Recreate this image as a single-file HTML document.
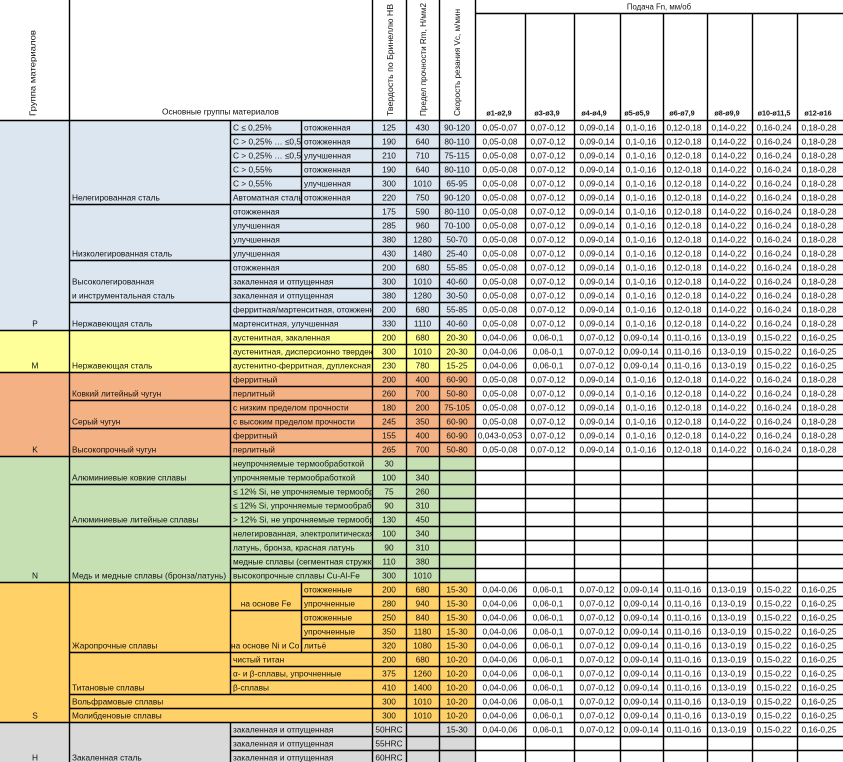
<!DOCTYPE html>
<html><head><meta charset="utf-8"><style>
html,body{margin:0;padding:0;background:#fff;}
svg{display:block;}
text{fill:#111;}
.c{text-anchor:middle;}
.h{font-size:7.2px;font-weight:bold;text-anchor:middle;}
</style></head><body>
<svg width="843" height="762" viewBox="0 0 843 762" xmlns="http://www.w3.org/2000/svg" font-family="'Liberation Sans', Arial, sans-serif" font-size="8.3">
<defs>
<clipPath id="cp3"><rect x="231" y="0" width="70" height="762"/></clipPath>
<clipPath id="cp34"><rect x="231" y="0" width="141" height="762"/></clipPath>
</defs>
<rect x="0" y="0" width="843" height="762" fill="#fff"/>
<rect x="0" y="120" width="475" height="210" fill="#dce6f1"/>
<rect x="0" y="330" width="475" height="42" fill="#ffff99"/>
<rect x="0" y="372" width="475" height="84" fill="#f4b183"/>
<rect x="0" y="456" width="475" height="126" fill="#c6e0b4"/>
<rect x="0" y="582" width="475" height="140" fill="#ffd166"/>
<rect x="0" y="722" width="475" height="40" fill="#d9d9d9"/>

<g stroke="#000" stroke-width="1.4" fill="none">
<path d="M475 13.5H843 M0 120.5H843 M0 330.5H843 M0 372.5H843 M0 456.5H843 M0 582.5H843 M0 722.5H843
M69 204.5H843 M69 260.5H843 M69 302.5H843 M69 400.5H843 M69 428.5H843 M69 484.5H843 M69 526.5H843 M69 652.5H843 M69 694.5H843 M69 708.5H843
M230 134.5H843 M230 148.5H843 M230 162.5H843 M230 176.5H843 M230 190.5H843 M230 218.5H843 M230 232.5H843 M230 246.5H843 M230 274.5H843 M230 288.5H843 M230 316.5H843 M230 344.5H843 M230 358.5H843 M230 386.5H843 M230 414.5H843 M230 442.5H843 M230 470.5H843 M230 498.5H843 M230 512.5H843 M230 540.5H843 M230 554.5H843 M230 568.5H843 M230 610.5H843 M230 666.5H843 M230 680.5H843 M230 736.5H843 M230 750.5H843
M301 596.5H843 M301 624.5H843 M301 638.5H843
M69.5 0V762 M372.5 0V762 M406.5 0V762 M439.5 0V762 M475.5 0V762
M525.5 13V762 M574.5 13V762 M620.5 13V762 M663.5 13V762 M707.5 13V762 M752.5 13V762 M797.5 13V762
M230.5 120V694 M230.5 722V762 M301.5 120V204 M301.5 582V652"/>
</g>

<!-- header -->
<text transform="translate(35.5,116) rotate(-90)" textLength="86" lengthAdjust="spacingAndGlyphs">Группа материалов</text>
<text transform="translate(393,116) rotate(-90)" textLength="112" lengthAdjust="spacingAndGlyphs">Твердость по Бринеллю HB</text>
<text transform="translate(426,116) rotate(-90)" textLength="113" lengthAdjust="spacingAndGlyphs">Предел прочности Rm, Н/мм2</text>
<text transform="translate(460,116) rotate(-90)" textLength="107" lengthAdjust="spacingAndGlyphs">Скорость резания Vc, м/мин</text>
<text class="c" x="220.5" y="114.5">Основные группы материалов</text>
<text class="c" x="659" y="9.5" font-size="7.8">Подача Fn, мм/об</text>
<text y="115.5" class="h"><tspan x="499">ø1-ø2,9</tspan><tspan x="547">ø3-ø3,9</tspan><tspan x="594">ø4-ø4,9</tspan><tspan x="637">ø5-ø5,9</tspan><tspan x="682">ø6-ø7,9</tspan><tspan x="727">ø8-ø9,9</tspan><tspan x="774">ø10-ø11,5</tspan><tspan x="818">ø12-ø16</tspan></text>

<!-- group letters -->
<text class="c" x="35" y="326.5">P</text>
<text class="c" x="35" y="368.5">M</text>
<text class="c" x="35" y="452.5">K</text>
<text class="c" x="35" y="578.5">N</text>
<text class="c" x="35" y="718.5">S</text>
<text class="c" x="35" y="760.5">H</text>

<!-- main groups -->
<text x="72" y="200.5">Нелегированная сталь</text>
<text x="72" y="256.5">Низколегированная сталь</text>
<text x="72" y="284.5">Высоколегированная</text>
<text x="72" y="298.5">и инструментальная сталь</text>
<text x="72" y="326.5">Нержавеющая сталь</text>
<text x="72" y="368.5">Нержавеющая сталь</text>
<text x="72" y="396.5">Ковкий литейный чугун</text>
<text x="72" y="424.5">Серый чугун</text>
<text x="72" y="452.5">Высокопрочный чугун</text>
<text x="72" y="480.5">Алюминиевые ковкие сплавы</text>
<text x="72" y="522.5">Алюминиевые литейные сплавы</text>
<text x="72" y="578.5">Медь и медные сплавы (бронза/латунь)</text>
<text x="72" y="648.5">Жаропрочные сплавы</text>
<text x="72" y="690.5">Титановые сплавы</text>
<text x="72" y="704.5">Вольфрамовые сплавы</text>
<text x="72" y="718.5">Молибденовые сплавы</text>
<text x="72" y="760.5">Закаленная сталь</text>

<!-- sub columns -->
<g clip-path="url(#cp3)">
<text x="233" y="130.5">C ≤ 0,25%</text>
<text x="233" y="144.5">C &gt; 0,25% … ≤0,55%</text>
<text x="233" y="158.5">C &gt; 0,25% … ≤0,55%</text>
<text x="233" y="172.5">C &gt; 0,55%</text>
<text x="233" y="186.5">C &gt; 0,55%</text>
<text x="233" y="200.5">Автоматная сталь</text>
<text x="231" y="648.5">на основе Ni и Co</text>
</g>
<text class="c" x="266" y="606.5">на основе Fe</text>
<text x="304" y="130.5">отожженная</text>
<text x="304" y="144.5">отожженная</text>
<text x="304" y="158.5">улучшенная</text>
<text x="304" y="172.5">отожженная</text>
<text x="304" y="186.5">улучшенная</text>
<text x="304" y="200.5">отожженная</text>
<text x="304" y="592.5">отожженные</text>
<text x="304" y="606.5">упрочненные</text>
<text x="304" y="620.5">отожженные</text>
<text x="304" y="634.5">упрочненные</text>
<text x="304" y="648.5">литьё</text>
<g clip-path="url(#cp34)">
<text x="233" y="214.5">отожженная</text>
<text x="233" y="228.5">улучшенная</text>
<text x="233" y="242.5">улучшенная</text>
<text x="233" y="256.5">улучшенная</text>
<text x="233" y="270.5">отожженная</text>
<text x="233" y="284.5">закаленная и отпущенная</text>
<text x="233" y="298.5">закаленная и отпущенная</text>
<text x="233" y="312.5">ферритная/мартенситная, отожженная</text>
<text x="233" y="326.5">мартенситная, улучшенная</text>
<text x="233" y="340.5">аустенитная, закаленная</text>
<text x="233" y="354.5">аустенитная, дисперсионно твердеющая</text>
<text x="233" y="368.5">аустенитно-ферритная, дуплексная</text>
<text x="233" y="382.5">ферритный</text>
<text x="233" y="396.5">перлитный</text>
<text x="233" y="410.5">с низким пределом прочности</text>
<text x="233" y="424.5">с высоким пределом прочности</text>
<text x="233" y="438.5">ферритный</text>
<text x="233" y="452.5">перлитный</text>
<text x="233" y="466.5">неупрочняемые термообработкой</text>
<text x="233" y="480.5">упрочняемые термообработкой</text>
<text x="233" y="494.5">≤ 12% Si, не упрочняемые термообработкой</text>
<text x="233" y="508.5">≤ 12% Si, упрочняемые термообработкой</text>
<text x="233" y="522.5">&gt; 12% Si, не упрочняемые термообработкой</text>
<text x="233" y="536.5">нелегированная, электролитическая медь</text>
<text x="233" y="550.5">латунь, бронза, красная латунь</text>
<text x="233" y="564.5">медные сплавы (сегментная стружка)</text>
<text x="233" y="578.5">высокопрочные сплавы Cu-Al-Fe</text>
<text x="233" y="662.5">чистый титан</text>
<text x="233" y="676.5">α- и β-сплавы, упрочненные</text>
<text x="233" y="690.5">β-сплавы</text>
<text x="233" y="732.5">закаленная и отпущенная</text>
<text x="233" y="746.5">закаленная и отпущенная</text>
<text x="233" y="760.5">закаленная и отпущенная</text>
</g>

<!-- numeric columns -->
<g class="c" text-anchor="middle">
<text y="130.5"><tspan x="389">125</tspan><tspan x="422.5">430</tspan><tspan x="457">90-120</tspan><tspan x="500">0,05-0,07</tspan><tspan x="548">0,07-0,12</tspan><tspan x="597">0,09-0,14</tspan><tspan x="641">0,1-0,16</tspan><tspan x="684">0,12-0,18</tspan><tspan x="729">0,14-0,22</tspan><tspan x="774">0,16-0,24</tspan><tspan x="819">0,18-0,28</tspan></text>
<text y="144.5"><tspan x="389">190</tspan><tspan x="422.5">640</tspan><tspan x="457">80-110</tspan><tspan x="500">0,05-0,08</tspan><tspan x="548">0,07-0,12</tspan><tspan x="597">0,09-0,14</tspan><tspan x="641">0,1-0,16</tspan><tspan x="684">0,12-0,18</tspan><tspan x="729">0,14-0,22</tspan><tspan x="774">0,16-0,24</tspan><tspan x="819">0,18-0,28</tspan></text>
<text y="158.5"><tspan x="389">210</tspan><tspan x="422.5">710</tspan><tspan x="457">75-115</tspan><tspan x="500">0,05-0,08</tspan><tspan x="548">0,07-0,12</tspan><tspan x="597">0,09-0,14</tspan><tspan x="641">0,1-0,16</tspan><tspan x="684">0,12-0,18</tspan><tspan x="729">0,14-0,22</tspan><tspan x="774">0,16-0,24</tspan><tspan x="819">0,18-0,28</tspan></text>
<text y="172.5"><tspan x="389">190</tspan><tspan x="422.5">640</tspan><tspan x="457">80-110</tspan><tspan x="500">0,05-0,08</tspan><tspan x="548">0,07-0,12</tspan><tspan x="597">0,09-0,14</tspan><tspan x="641">0,1-0,16</tspan><tspan x="684">0,12-0,18</tspan><tspan x="729">0,14-0,22</tspan><tspan x="774">0,16-0,24</tspan><tspan x="819">0,18-0,28</tspan></text>
<text y="186.5"><tspan x="389">300</tspan><tspan x="422.5">1010</tspan><tspan x="457">65-95</tspan><tspan x="500">0,05-0,08</tspan><tspan x="548">0,07-0,12</tspan><tspan x="597">0,09-0,14</tspan><tspan x="641">0,1-0,16</tspan><tspan x="684">0,12-0,18</tspan><tspan x="729">0,14-0,22</tspan><tspan x="774">0,16-0,24</tspan><tspan x="819">0,18-0,28</tspan></text>
<text y="200.5"><tspan x="389">220</tspan><tspan x="422.5">750</tspan><tspan x="457">90-120</tspan><tspan x="500">0,05-0,08</tspan><tspan x="548">0,07-0,12</tspan><tspan x="597">0,09-0,14</tspan><tspan x="641">0,1-0,16</tspan><tspan x="684">0,12-0,18</tspan><tspan x="729">0,14-0,22</tspan><tspan x="774">0,16-0,24</tspan><tspan x="819">0,18-0,28</tspan></text>
<text y="214.5"><tspan x="389">175</tspan><tspan x="422.5">590</tspan><tspan x="457">80-110</tspan><tspan x="500">0,05-0,08</tspan><tspan x="548">0,07-0,12</tspan><tspan x="597">0,09-0,14</tspan><tspan x="641">0,1-0,16</tspan><tspan x="684">0,12-0,18</tspan><tspan x="729">0,14-0,22</tspan><tspan x="774">0,16-0,24</tspan><tspan x="819">0,18-0,28</tspan></text>
<text y="228.5"><tspan x="389">285</tspan><tspan x="422.5">960</tspan><tspan x="457">70-100</tspan><tspan x="500">0,05-0,08</tspan><tspan x="548">0,07-0,12</tspan><tspan x="597">0,09-0,14</tspan><tspan x="641">0,1-0,16</tspan><tspan x="684">0,12-0,18</tspan><tspan x="729">0,14-0,22</tspan><tspan x="774">0,16-0,24</tspan><tspan x="819">0,18-0,28</tspan></text>
<text y="242.5"><tspan x="389">380</tspan><tspan x="422.5">1280</tspan><tspan x="457">50-70</tspan><tspan x="500">0,05-0,08</tspan><tspan x="548">0,07-0,12</tspan><tspan x="597">0,09-0,14</tspan><tspan x="641">0,1-0,16</tspan><tspan x="684">0,12-0,18</tspan><tspan x="729">0,14-0,22</tspan><tspan x="774">0,16-0,24</tspan><tspan x="819">0,18-0,28</tspan></text>
<text y="256.5"><tspan x="389">430</tspan><tspan x="422.5">1480</tspan><tspan x="457">25-40</tspan><tspan x="500">0,05-0,08</tspan><tspan x="548">0,07-0,12</tspan><tspan x="597">0,09-0,14</tspan><tspan x="641">0,1-0,16</tspan><tspan x="684">0,12-0,18</tspan><tspan x="729">0,14-0,22</tspan><tspan x="774">0,16-0,24</tspan><tspan x="819">0,18-0,28</tspan></text>
<text y="270.5"><tspan x="389">200</tspan><tspan x="422.5">680</tspan><tspan x="457">55-85</tspan><tspan x="500">0,05-0,08</tspan><tspan x="548">0,07-0,12</tspan><tspan x="597">0,09-0,14</tspan><tspan x="641">0,1-0,16</tspan><tspan x="684">0,12-0,18</tspan><tspan x="729">0,14-0,22</tspan><tspan x="774">0,16-0,24</tspan><tspan x="819">0,18-0,28</tspan></text>
<text y="284.5"><tspan x="389">300</tspan><tspan x="422.5">1010</tspan><tspan x="457">40-60</tspan><tspan x="500">0,05-0,08</tspan><tspan x="548">0,07-0,12</tspan><tspan x="597">0,09-0,14</tspan><tspan x="641">0,1-0,16</tspan><tspan x="684">0,12-0,18</tspan><tspan x="729">0,14-0,22</tspan><tspan x="774">0,16-0,24</tspan><tspan x="819">0,18-0,28</tspan></text>
<text y="298.5"><tspan x="389">380</tspan><tspan x="422.5">1280</tspan><tspan x="457">30-50</tspan><tspan x="500">0,05-0,08</tspan><tspan x="548">0,07-0,12</tspan><tspan x="597">0,09-0,14</tspan><tspan x="641">0,1-0,16</tspan><tspan x="684">0,12-0,18</tspan><tspan x="729">0,14-0,22</tspan><tspan x="774">0,16-0,24</tspan><tspan x="819">0,18-0,28</tspan></text>
<text y="312.5"><tspan x="389">200</tspan><tspan x="422.5">680</tspan><tspan x="457">55-85</tspan><tspan x="500">0,05-0,08</tspan><tspan x="548">0,07-0,12</tspan><tspan x="597">0,09-0,14</tspan><tspan x="641">0,1-0,16</tspan><tspan x="684">0,12-0,18</tspan><tspan x="729">0,14-0,22</tspan><tspan x="774">0,16-0,24</tspan><tspan x="819">0,18-0,28</tspan></text>
<text y="326.5"><tspan x="389">330</tspan><tspan x="422.5">1110</tspan><tspan x="457">40-60</tspan><tspan x="500">0,05-0,08</tspan><tspan x="548">0,07-0,12</tspan><tspan x="597">0,09-0,14</tspan><tspan x="641">0,1-0,16</tspan><tspan x="684">0,12-0,18</tspan><tspan x="729">0,14-0,22</tspan><tspan x="774">0,16-0,24</tspan><tspan x="819">0,18-0,28</tspan></text>
<text y="340.5"><tspan x="389">200</tspan><tspan x="422.5">680</tspan><tspan x="457">20-30</tspan><tspan x="500">0,04-0,06</tspan><tspan x="548">0,06-0,1</tspan><tspan x="597">0,07-0,12</tspan><tspan x="641">0,09-0,14</tspan><tspan x="684">0,11-0,16</tspan><tspan x="729">0,13-0,19</tspan><tspan x="774">0,15-0,22</tspan><tspan x="819">0,16-0,25</tspan></text>
<text y="354.5"><tspan x="389">300</tspan><tspan x="422.5">1010</tspan><tspan x="457">20-30</tspan><tspan x="500">0,04-0,06</tspan><tspan x="548">0,06-0,1</tspan><tspan x="597">0,07-0,12</tspan><tspan x="641">0,09-0,14</tspan><tspan x="684">0,11-0,16</tspan><tspan x="729">0,13-0,19</tspan><tspan x="774">0,15-0,22</tspan><tspan x="819">0,16-0,25</tspan></text>
<text y="368.5"><tspan x="389">230</tspan><tspan x="422.5">780</tspan><tspan x="457">15-25</tspan><tspan x="500">0,04-0,06</tspan><tspan x="548">0,06-0,1</tspan><tspan x="597">0,07-0,12</tspan><tspan x="641">0,09-0,14</tspan><tspan x="684">0,11-0,16</tspan><tspan x="729">0,13-0,19</tspan><tspan x="774">0,15-0,22</tspan><tspan x="819">0,16-0,25</tspan></text>
<text y="382.5"><tspan x="389">200</tspan><tspan x="422.5">400</tspan><tspan x="457">60-90</tspan><tspan x="500">0,05-0,08</tspan><tspan x="548">0,07-0,12</tspan><tspan x="597">0,09-0,14</tspan><tspan x="641">0,1-0,16</tspan><tspan x="684">0,12-0,18</tspan><tspan x="729">0,14-0,22</tspan><tspan x="774">0,16-0,24</tspan><tspan x="819">0,18-0,28</tspan></text>
<text y="396.5"><tspan x="389">260</tspan><tspan x="422.5">700</tspan><tspan x="457">50-80</tspan><tspan x="500">0,05-0,08</tspan><tspan x="548">0,07-0,12</tspan><tspan x="597">0,09-0,14</tspan><tspan x="641">0,1-0,16</tspan><tspan x="684">0,12-0,18</tspan><tspan x="729">0,14-0,22</tspan><tspan x="774">0,16-0,24</tspan><tspan x="819">0,18-0,28</tspan></text>
<text y="410.5"><tspan x="389">180</tspan><tspan x="422.5">200</tspan><tspan x="457">75-105</tspan><tspan x="500">0,05-0,08</tspan><tspan x="548">0,07-0,12</tspan><tspan x="597">0,09-0,14</tspan><tspan x="641">0,1-0,16</tspan><tspan x="684">0,12-0,18</tspan><tspan x="729">0,14-0,22</tspan><tspan x="774">0,16-0,24</tspan><tspan x="819">0,18-0,28</tspan></text>
<text y="424.5"><tspan x="389">245</tspan><tspan x="422.5">350</tspan><tspan x="457">60-90</tspan><tspan x="500">0,05-0,08</tspan><tspan x="548">0,07-0,12</tspan><tspan x="597">0,09-0,14</tspan><tspan x="641">0,1-0,16</tspan><tspan x="684">0,12-0,18</tspan><tspan x="729">0,14-0,22</tspan><tspan x="774">0,16-0,24</tspan><tspan x="819">0,18-0,28</tspan></text>
<text y="438.5"><tspan x="389">155</tspan><tspan x="422.5">400</tspan><tspan x="457">60-90</tspan><tspan x="500">0,043-0,053</tspan><tspan x="548">0,07-0,12</tspan><tspan x="597">0,09-0,14</tspan><tspan x="641">0,1-0,16</tspan><tspan x="684">0,12-0,18</tspan><tspan x="729">0,14-0,22</tspan><tspan x="774">0,16-0,24</tspan><tspan x="819">0,18-0,28</tspan></text>
<text y="452.5"><tspan x="389">265</tspan><tspan x="422.5">700</tspan><tspan x="457">50-80</tspan><tspan x="500">0,05-0,08</tspan><tspan x="548">0,07-0,12</tspan><tspan x="597">0,09-0,14</tspan><tspan x="641">0,1-0,16</tspan><tspan x="684">0,12-0,18</tspan><tspan x="729">0,14-0,22</tspan><tspan x="774">0,16-0,24</tspan><tspan x="819">0,18-0,28</tspan></text>
<text y="466.5"><tspan x="389">30</tspan></text>
<text y="480.5"><tspan x="389">100</tspan><tspan x="422.5">340</tspan></text>
<text y="494.5"><tspan x="389">75</tspan><tspan x="422.5">260</tspan></text>
<text y="508.5"><tspan x="389">90</tspan><tspan x="422.5">310</tspan></text>
<text y="522.5"><tspan x="389">130</tspan><tspan x="422.5">450</tspan></text>
<text y="536.5"><tspan x="389">100</tspan><tspan x="422.5">340</tspan></text>
<text y="550.5"><tspan x="389">90</tspan><tspan x="422.5">310</tspan></text>
<text y="564.5"><tspan x="389">110</tspan><tspan x="422.5">380</tspan></text>
<text y="578.5"><tspan x="389">300</tspan><tspan x="422.5">1010</tspan></text>
<text y="592.5"><tspan x="389">200</tspan><tspan x="422.5">680</tspan><tspan x="457">15-30</tspan><tspan x="500">0,04-0,06</tspan><tspan x="548">0,06-0,1</tspan><tspan x="597">0,07-0,12</tspan><tspan x="641">0,09-0,14</tspan><tspan x="684">0,11-0,16</tspan><tspan x="729">0,13-0,19</tspan><tspan x="774">0,15-0,22</tspan><tspan x="819">0,16-0,25</tspan></text>
<text y="606.5"><tspan x="389">280</tspan><tspan x="422.5">940</tspan><tspan x="457">15-30</tspan><tspan x="500">0,04-0,06</tspan><tspan x="548">0,06-0,1</tspan><tspan x="597">0,07-0,12</tspan><tspan x="641">0,09-0,14</tspan><tspan x="684">0,11-0,16</tspan><tspan x="729">0,13-0,19</tspan><tspan x="774">0,15-0,22</tspan><tspan x="819">0,16-0,25</tspan></text>
<text y="620.5"><tspan x="389">250</tspan><tspan x="422.5">840</tspan><tspan x="457">15-30</tspan><tspan x="500">0,04-0,06</tspan><tspan x="548">0,06-0,1</tspan><tspan x="597">0,07-0,12</tspan><tspan x="641">0,09-0,14</tspan><tspan x="684">0,11-0,16</tspan><tspan x="729">0,13-0,19</tspan><tspan x="774">0,15-0,22</tspan><tspan x="819">0,16-0,25</tspan></text>
<text y="634.5"><tspan x="389">350</tspan><tspan x="422.5">1180</tspan><tspan x="457">15-30</tspan><tspan x="500">0,04-0,06</tspan><tspan x="548">0,06-0,1</tspan><tspan x="597">0,07-0,12</tspan><tspan x="641">0,09-0,14</tspan><tspan x="684">0,11-0,16</tspan><tspan x="729">0,13-0,19</tspan><tspan x="774">0,15-0,22</tspan><tspan x="819">0,16-0,25</tspan></text>
<text y="648.5"><tspan x="389">320</tspan><tspan x="422.5">1080</tspan><tspan x="457">15-30</tspan><tspan x="500">0,04-0,06</tspan><tspan x="548">0,06-0,1</tspan><tspan x="597">0,07-0,12</tspan><tspan x="641">0,09-0,14</tspan><tspan x="684">0,11-0,16</tspan><tspan x="729">0,13-0,19</tspan><tspan x="774">0,15-0,22</tspan><tspan x="819">0,16-0,25</tspan></text>
<text y="662.5"><tspan x="389">200</tspan><tspan x="422.5">680</tspan><tspan x="457">10-20</tspan><tspan x="500">0,04-0,06</tspan><tspan x="548">0,06-0,1</tspan><tspan x="597">0,07-0,12</tspan><tspan x="641">0,09-0,14</tspan><tspan x="684">0,11-0,16</tspan><tspan x="729">0,13-0,19</tspan><tspan x="774">0,15-0,22</tspan><tspan x="819">0,16-0,25</tspan></text>
<text y="676.5"><tspan x="389">375</tspan><tspan x="422.5">1260</tspan><tspan x="457">10-20</tspan><tspan x="500">0,04-0,06</tspan><tspan x="548">0,06-0,1</tspan><tspan x="597">0,07-0,12</tspan><tspan x="641">0,09-0,14</tspan><tspan x="684">0,11-0,16</tspan><tspan x="729">0,13-0,19</tspan><tspan x="774">0,15-0,22</tspan><tspan x="819">0,16-0,25</tspan></text>
<text y="690.5"><tspan x="389">410</tspan><tspan x="422.5">1400</tspan><tspan x="457">10-20</tspan><tspan x="500">0,04-0,06</tspan><tspan x="548">0,06-0,1</tspan><tspan x="597">0,07-0,12</tspan><tspan x="641">0,09-0,14</tspan><tspan x="684">0,11-0,16</tspan><tspan x="729">0,13-0,19</tspan><tspan x="774">0,15-0,22</tspan><tspan x="819">0,16-0,25</tspan></text>
<text y="704.5"><tspan x="389">300</tspan><tspan x="422.5">1010</tspan><tspan x="457">10-20</tspan><tspan x="500">0,04-0,06</tspan><tspan x="548">0,06-0,1</tspan><tspan x="597">0,07-0,12</tspan><tspan x="641">0,09-0,14</tspan><tspan x="684">0,11-0,16</tspan><tspan x="729">0,13-0,19</tspan><tspan x="774">0,15-0,22</tspan><tspan x="819">0,16-0,25</tspan></text>
<text y="718.5"><tspan x="389">300</tspan><tspan x="422.5">1010</tspan><tspan x="457">10-20</tspan><tspan x="500">0,04-0,06</tspan><tspan x="548">0,06-0,1</tspan><tspan x="597">0,07-0,12</tspan><tspan x="641">0,09-0,14</tspan><tspan x="684">0,11-0,16</tspan><tspan x="729">0,13-0,19</tspan><tspan x="774">0,15-0,22</tspan><tspan x="819">0,16-0,25</tspan></text>
<text y="732.5"><tspan x="389">50HRC</tspan><tspan x="457">15-30</tspan><tspan x="500">0,04-0,06</tspan><tspan x="548">0,06-0,1</tspan><tspan x="597">0,07-0,12</tspan><tspan x="641">0,09-0,14</tspan><tspan x="684">0,11-0,16</tspan><tspan x="729">0,13-0,19</tspan><tspan x="774">0,15-0,22</tspan><tspan x="819">0,16-0,25</tspan></text>
<text y="746.5"><tspan x="389">55HRC</tspan></text>
<text y="760.5"><tspan x="389">60HRC</tspan></text>
</g>
</svg>
</body></html>
